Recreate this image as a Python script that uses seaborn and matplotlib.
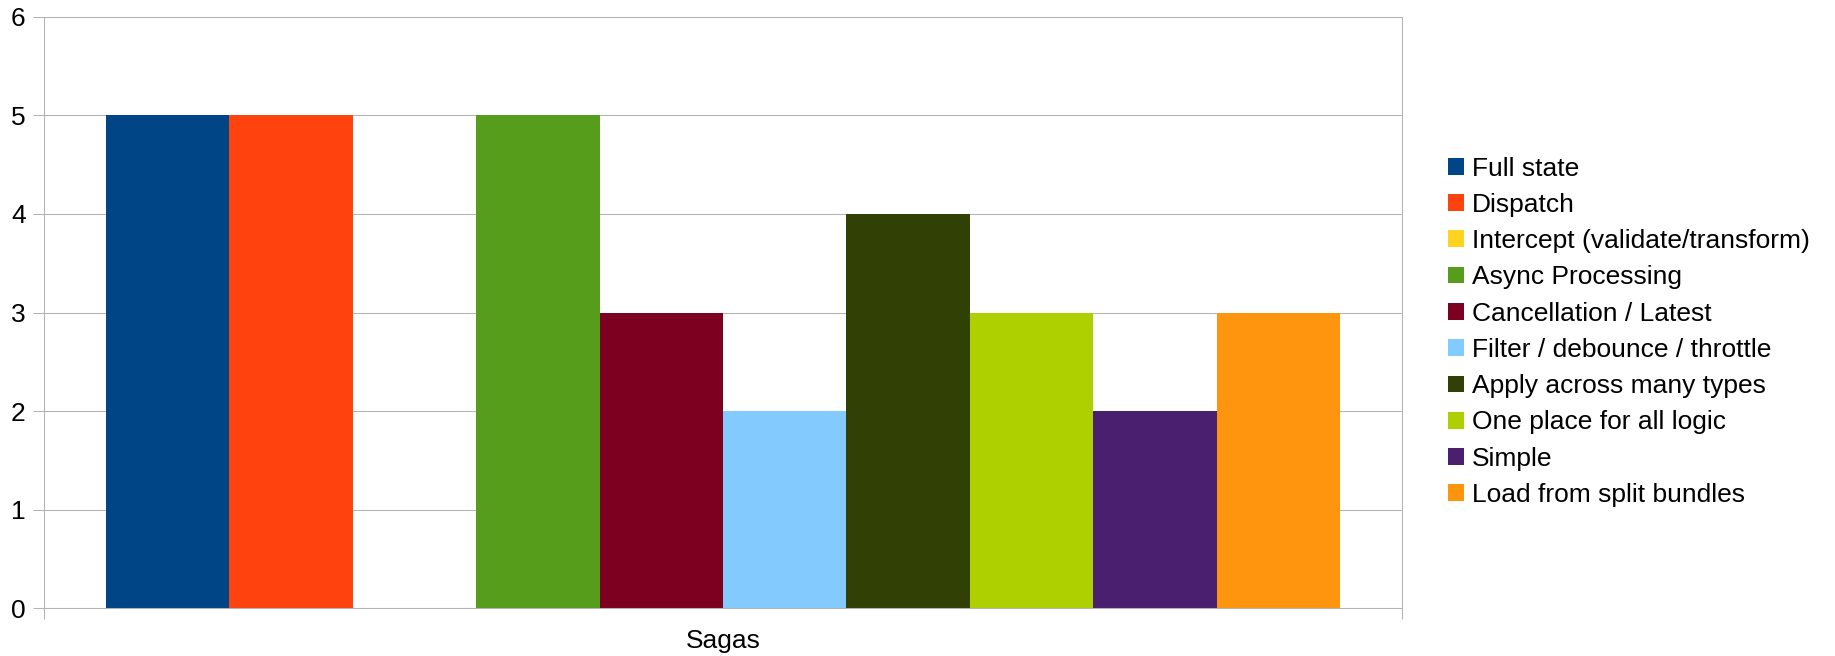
import matplotlib
matplotlib.use("Agg")
import matplotlib.pyplot as plt
import seaborn as sns
import pandas as pd

categories = ["Sagas"]
series = [
    "Full state",
    "Dispatch",
    "Intercept (validate/transform)",
    "Async Processing",
    "Cancellation / Latest",
    "Filter / debounce / throttle",
    "Apply across many types",
    "One place for all logic",
    "Simple",
    "Load from split bundles",
]
values = [5, 5, 0, 5, 3, 2, 4, 3, 2, 3]
colors = ["#004586", "#ff420e", "#ffd320", "#579d1c", "#7e0021",
          "#83caff", "#314004", "#aecf00", "#4b1f6f", "#ff950e"]
y_ticks = [0, 1, 2, 3, 4, 5, 6]

df = pd.DataFrame({
    "category": categories * len(series),
    "series": series,
    "value": values,
})

sns.set_theme(style="white")
plt.rcParams["font.family"] = ["Liberation Sans", "DejaVu Sans"]
plt.rcParams["text.color"] = "black"

W, H = 1835, 656
fig = plt.figure(figsize=(W / 100, H / 100), dpi=100)
ax = fig.add_axes([44.3 / W, 1 - 608.3 / H, (1401.7 - 44.3) / W, (608.3 - 16.7) / H])

sns.barplot(data=df, x="category", y="value", hue="series", hue_order=series,
            palette=colors, saturation=1, width=10 / 11, gap=0, ax=ax,
            linewidth=0, edgecolor="none")

handles, labels = ax.get_legend_handles_labels()
if ax.get_legend() is not None:
    ax.get_legend().remove()

gray = "#b3b3b3"
fs = 19
ax.set_xlim(-0.5, 0.5)
ax.set_ylim(0, 6)
ax.set_yticks(y_ticks)
ax.set_yticklabels([str(t) for t in y_ticks])
ax.yaxis.grid(True, color=gray, linewidth=0.75)
ax.set_axisbelow(True)
for s in ax.spines.values():
    s.set_visible(True)
    s.set_color(gray)
    s.set_linewidth(0.75)
ax.set_xlabel("")
ax.set_ylabel("")
ax.set_xticks([0])
ax.set_xticklabels(categories)
ax.set_xticks([-0.5, 0.5], minor=True)
ax.tick_params(axis="x", which="major", length=0, pad=15, labelsize=fs, labelcolor="black")
ax.tick_params(axis="x", which="minor", length=8, width=0.75, color=gray, bottom=True)
ax.tick_params(axis="y", length=8, width=0.75, color=gray, pad=5.5, labelsize=fs,
               labelcolor="black", left=True)

leg = fig.legend(handles, labels, loc="center left",
                 bbox_to_anchor=(1448 / W, 1 - 331.8 / H), bbox_transform=fig.transFigure,
                 frameon=False, fontsize=fs, handlelength=0.6, handleheight=0.6,
                 handletextpad=0.3, labelspacing=0.465, borderpad=0, borderaxespad=0,
                 labelcolor="black")
for h in leg.legend_handles:
    h.set_linewidth(0)

fig.savefig("out.png", dpi=100)
